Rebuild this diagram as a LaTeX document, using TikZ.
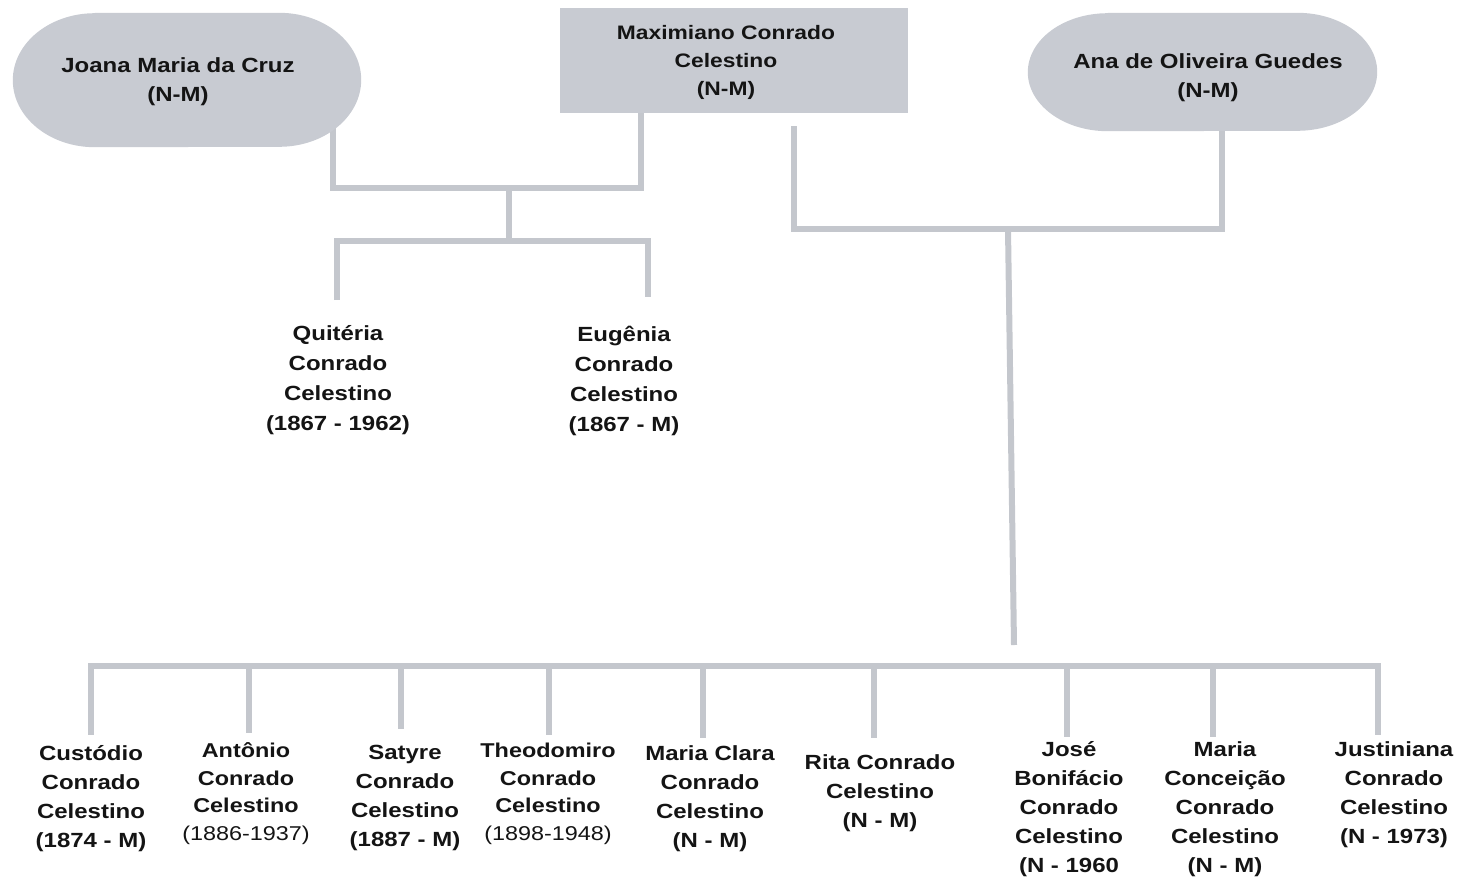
\documentclass[tikz,border=0pt]{standalone}
\usepackage{fontspec}
\setmainfont[FakeStretch=1.17]{Liberation Sans}
\usetikzlibrary{backgrounds}
\definecolor{boxgray}{RGB}{200,203,210}
\definecolor{linkgray}{RGB}{196,199,205}
\definecolor{ink}{RGB}{20,20,20}
\begin{document}
\begin{tikzpicture}[x=1pt,y=-1pt,
  link/.style={draw=linkgray,line width=6pt},
  pbox/.style={fill=boxgray,inner sep=0pt},
  pframe/.style={inner sep=0pt},
  ptext/.style={align=center,text=ink,inner sep=0pt,
    font=\fontsize{20.5}{29}\selectfont\bfseries},
  kid/.style={align=center,text=ink,inner sep=0pt,
    font=\fontsize{20.5}{29}\selectfont\bfseries},
  kidtight/.style={kid,font=\fontsize{20}{27.5}\selectfont\bfseries}]
\useasboundingbox (0,0) rectangle (1459,881);

% --- parents ---
% the two wives are drawn as stadiums with elliptic ends
\node[pframe,minimum width=348,minimum height=134] (joana) at (187,80) {};
\fill[boxgray] ([xshift=82pt]joana.north west) -- ([xshift=-82pt]joana.north east)
  arc[start angle=90,end angle=-90,x radius=82pt,y radius=67pt]
  -- ([xshift=82pt]joana.south west)
  arc[start angle=270,end angle=90,x radius=82pt,y radius=67pt] -- cycle;
\node[ptext] (joanatext) at (178,82) {Joana Maria da Cruz\\(N-M)};

\node[pbox,minimum width=348,minimum height=105] (max) at (734,60.5) {};
\node[ptext,font=\fontsize{19.5}{28}\selectfont\bfseries] (maxtext) at (726,62.5)
  {Maximiano Conrado\\Celestino\\(N-M)};

\node[pframe,minimum width=349,minimum height=118] (ana) at (1202.5,72) {};
\fill[boxgray] ([xshift=80pt]ana.north west) -- ([xshift=-80pt]ana.north east)
  arc[start angle=90,end angle=-90,x radius=80pt,y radius=59pt]
  -- ([xshift=80pt]ana.south west)
  arc[start angle=270,end angle=90,x radius=80pt,y radius=59pt] -- cycle;
\node[ptext] (anatext) at (1208,78) {Ana de Oliveira Guedes\\(N-M)};

% --- children of Joana and Maximiano ---
\node[kid,font=\fontsize{20.5}{30}\selectfont\bfseries] (quiteria) at (338,380.5)
  {Quitéria\\Conrado\\Celestino\\(1867 - 1962)};
\node[kid,font=\fontsize{20.5}{30}\selectfont\bfseries] (eugenia) at (624,380.5)
  {Eugênia\\Conrado\\Celestino\\(1867 - M)};

% --- children of Maximiano and Ana ---
\node[kid] (custodio) at (91,799) {Custódio\\Conrado\\Celestino\\(1874 - M)};
\node[kidtight] (antonio) at (246,793.5) {Antônio\\Conrado\\Celestino\\{\mdseries(1886-1937)}};
\node[kid] (satyre) at (405,798) {Satyre\\Conrado\\Celestino\\(1887 - M)};
\node[kidtight] (theodomiro) at (548,794) {Theodomiro\\Conrado\\Celestino\\{\mdseries(1898-1948)}};
\node[kid] (mariaclara) at (710,799) {Maria Clara\\Conrado\\Celestino\\(N - M)};
\node[kid] (rita) at (880,793) {Rita Conrado\\Celestino\\(N - M)};
\node[kid] (jose) at (1069,809) {José\\Bonifácio\\Conrado\\Celestino\\(N - 1960};
\node[kid] (mconceicao) at (1225,809) {Maria\\Conceição\\Conrado\\Celestino\\(N - M)};
\node[kid] (justiniana) at (1394,795) {Justiniana\\Conrado\\Celestino\\(N - 1973)};

% --- junction points ---
\coordinate (jdrop) at (333,188);
\coordinate (lbar) at (641,188);
\coordinate (lhub) at (509,188);
\coordinate (lsplit) at (509,241);
\coordinate (qend) at (337,300);
\coordinate (eend) at (648,297);
\coordinate (mstub) at (794,126);
\coordinate (rhub) at (1008,229);
\coordinate (adrop) at (1222,229);
\coordinate (rdrop) at (1014,645);
\coordinate (barL) at (88,666);
\coordinate (barR) at (1381,666);

\begin{scope}[on background layer]
  % couple Joana -- Maximiano
  \draw[link] (joana.center -| jdrop) -- (jdrop) -- (lbar) -- (max.center -| lbar);
  \draw[link] (lhub) -- (lsplit);
  \draw[link] (qend) |- (lsplit) -| (eend);
  % couple Maximiano -- Ana
  \draw[link] (mstub) |- (adrop) -- (ana.center -| adrop);
  \draw[link] (rhub) -- (rdrop);
  % sibling bar and drops
  \draw[link] (barL) -- (barR);
  \draw[link] (91,666) -- (91,735);
  \draw[link] (249,666) -- (249,733);
  \draw[link] (401,666) -- (401,729);
  \draw[link] (549,666) -- (549,735);
  \draw[link] (703,666) -- (703,738);
  \draw[link] (874,666) -- (874,738);
  \draw[link] (1067,666) -- (1067,737);
  \draw[link] (1213,666) -- (1213,737);
  \draw[link] (1378,666) -- (1378,735);
\end{scope}
\end{tikzpicture}
\end{document}
